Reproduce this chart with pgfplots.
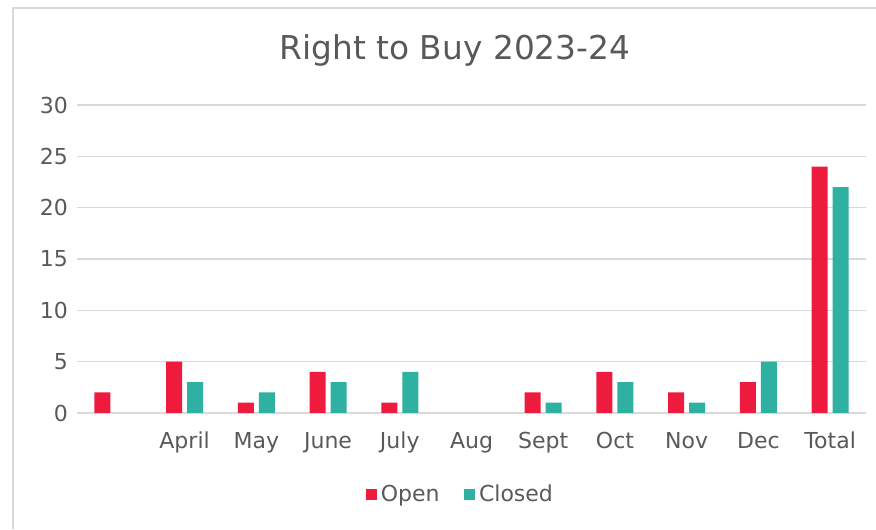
\documentclass[border=0pt]{standalone}
\usepackage{fontspec}
\setmainfont{DejaVu Sans}
\usepackage{pgfplots}
\pgfplotsset{compat=1.18}
\definecolor{openred}{HTML}{EE1B3F}
\definecolor{closedteal}{HTML}{2EB0A2}
\definecolor{txtgray}{HTML}{595959}
\definecolor{gridgray}{HTML}{D9D9D9}
\definecolor{framegray}{HTML}{D9D9D9}

\begin{document}
\begin{tikzpicture}[x=0.5pt,y=0.5pt]
% page is 876 x 529 px, 1px = 0.5pt, y measured from bottom
\path[use as bounding box] (0,0) rectangle (876,529);
\draw[framegray, line width=1pt] (12.5,0) -- (12.5,520.5) -- (876,520.5);
\node[txtgray, font=\fontsize{16.4}{18}\selectfont] at (455,479) {Right to Buy 2023-24};
\coordinate (O) at (77,116);
\begin{axis}[
  at={(O)}, anchor=south west,
  scale only axis, width=394.5pt, height=154pt,
  ybar=2.5pt, bar width=8pt,
  xmin=-0.5, xmax=10.5, ymin=0, ymax=30,
  xtick={0,...,10},
  xticklabels={{}, April, May, June, July, Aug, Sept, Oct, Nov, Dec, Total},
  ytick={0,5,...,30},
  ymajorgrids, grid style={gridgray, line width=0.8pt},
  axis line style={draw=none}, major tick length=0pt,
  tick label style={txtgray, font=\fontsize{11}{13}\selectfont},
  /pgf/number format/assume math mode=true,
  yticklabel style={xshift=-1pt},
  xticklabel style={yshift=-6pt},
  legend style={at={(0.487,-0.265)}, anchor=center, draw=none, fill=none,
    legend columns=2, font=\fontsize{11}{13}\selectfont, text=txtgray,
    /tikz/every even column/.append style={column sep=10pt}},
  legend image code/.code={\fill[#1] (0cm,-0.1cm) rectangle (0.2cm,0.1cm);},
  legend cell align=left,
]
\addplot+[draw=none, fill=openred] coordinates {(0,2) (1,5) (2,1) (3,4) (4,1) (6,2) (7,4) (8,2) (9,3) (10,24)};
\addplot+[draw=none, fill=closedteal] coordinates {(1,3) (2,2) (3,3) (4,4) (6,1) (7,3) (8,1) (9,5) (10,22)};
\legend{Open, Closed}
\end{axis}
\end{tikzpicture}
\end{document}
